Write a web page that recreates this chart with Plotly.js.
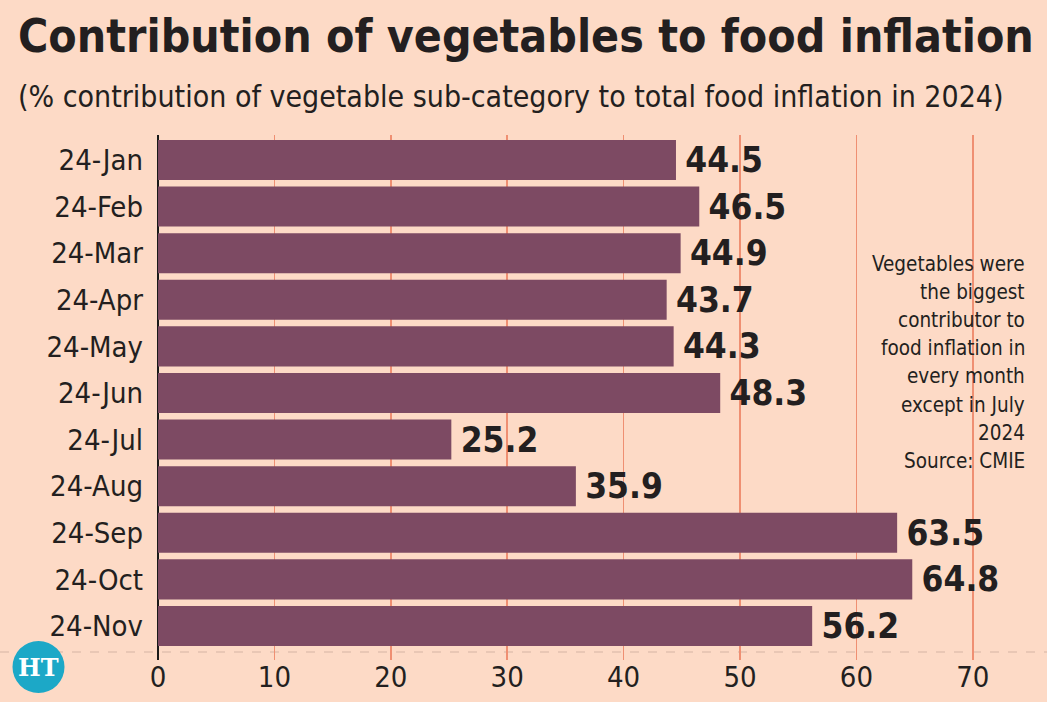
<!DOCTYPE html>
<html>
<head>
<meta charset="utf-8">
<script src="https://cdn.plot.ly/plotly-3.0.1.min.js"></script>
<style>
  html, body { margin: 0; padding: 0; background: #fddac6; }
  #chart { width: 1047px; height: 702px; }
</style>
</head>
<body>
<div id="chart"></div>
<script>
// Monthly share of vegetables in food inflation, 2024 (%)
const months = ["24-Jan", "24-Feb", "24-Mar", "24-Apr", "24-May", "24-Jun",
                "24-Jul", "24-Aug", "24-Sep", "24-Oct", "24-Nov"];
const vegShare = [44.5, 46.5, 44.9, 43.7, 44.3, 48.3, 25.2, 35.9, 63.5, 64.8, 56.2];
const xTicks = [0, 10, 20, 30, 40, 50, 60, 70];
const noteLines = ["Vegetables were", "the biggest", "contributor to", "food inflation in",
                   "every month", "except in July", "2024", "Source: CMIE"];

const BG = "#fddac6";
const INK = "#231f20";
const BAR = "#7d4a63";
const GRID = "#ef8f72";
const FONT = "DejaVu Sans Condensed, Liberation Sans Narrow, sans-serif";

// pixel geometry of the plotting box
const W = 1047, H = 702;
const M = { l: 158, r: 16, t: 135, b: 42 };
const pw = W - M.l - M.r, ph = H - M.t - M.b;
const px = x => (x - M.l) / pw;          // page x -> paper x
const py = y => (H - M.b - y) / ph;      // page y -> paper y

const trace = {
  type: "bar",
  orientation: "h",
  y: months,
  x: vegShare,
  marker: { color: BAR, line: { width: 0 } },
  width: 0.86,
  text: vegShare.map(v => v.toFixed(1)),
  texttemplate: "\u2009%{text}",
  textposition: "outside",
  cliponaxis: false,
  textfont: { family: FONT, size: 35, weight: 700, color: INK },
  hoverinfo: "skip"
};

// side note, one annotation per line so the line pitch can be set
const noteAnns = noteLines.map((line, i) => ({
  xref: "paper", yref: "paper", x: px(1027), y: py(264 + i * 28.1),
  xanchor: "right", yanchor: "middle", showarrow: false,
  text: line,
  font: { family: FONT, size: 20.5, color: INK }
}));

const layout = {
  width: W, height: H,
  margin: M,
  paper_bgcolor: BG,
  plot_bgcolor: BG,
  showlegend: false,
  font: { family: FONT, color: INK },
  xaxis: {
    range: [0, 75],
    tickvals: xTicks,
    ticktext: xTicks.map(String),
    showgrid: true,
    gridcolor: GRID,
    gridwidth: 1.5,
    zeroline: true,
    zerolinecolor: "#1a1a1a",
    zerolinewidth: 2.5,
    showline: false,
    ticks: "",
    tickfont: { family: FONT, size: 29, color: INK },
    ticklabelstandoff: -3,
    fixedrange: true
  },
  yaxis: {
    type: "category",
    categoryorder: "array",
    categoryarray: months,
    range: [10.73, -0.536],
    showgrid: false,
    zeroline: false,
    showline: false,
    ticks: "",
    tickfont: { family: FONT, size: 29, color: INK },
    ticklabelstandoff: 14,
    fixedrange: true
  },
  shapes: [
    // dashed baseline under the bars
    { type: "line", xref: "paper", yref: "paper", layer: "below",
      x0: px(0), x1: px(W), y0: py(652), y1: py(652),
      line: { color: "#d6b4a4", width: 1.2, dash: "dash" } },
    // masthead badge
    { type: "circle", xref: "paper", yref: "paper",
      xsizemode: "pixel", ysizemode: "pixel",
      xanchor: px(38.5), yanchor: py(667),
      x0: -26, x1: 26, y0: -26, y1: 26,
      fillcolor: "#1ca8c7", line: { width: 0 } }
  ],
  annotations: [
    { xref: "paper", yref: "paper", x: px(16), y: py(36),
      xanchor: "left", yanchor: "middle", showarrow: false,
      text: "<b>Contribution of vegetables to food inflation</b>",
      font: { family: FONT, size: 46, color: INK } },
    { xref: "paper", yref: "paper", x: px(16), y: py(97),
      xanchor: "left", yanchor: "middle", showarrow: false,
      text: "(% contribution of vegetable sub-category to total food inflation in 2024)",
      font: { family: FONT, size: 30, color: INK } },
    ...noteAnns,
    { xref: "paper", yref: "paper", x: px(38.5), y: py(667),
      xanchor: "center", yanchor: "middle", showarrow: false,
      text: "<b>HT</b>",
      font: { family: "DejaVu Serif, Liberation Serif, serif", size: 24, color: "#ffffff" } }
  ]
};

Plotly.newPlot("chart", [trace], layout, { displayModeBar: false, staticPlot: true });
</script>
</body>
</html>
